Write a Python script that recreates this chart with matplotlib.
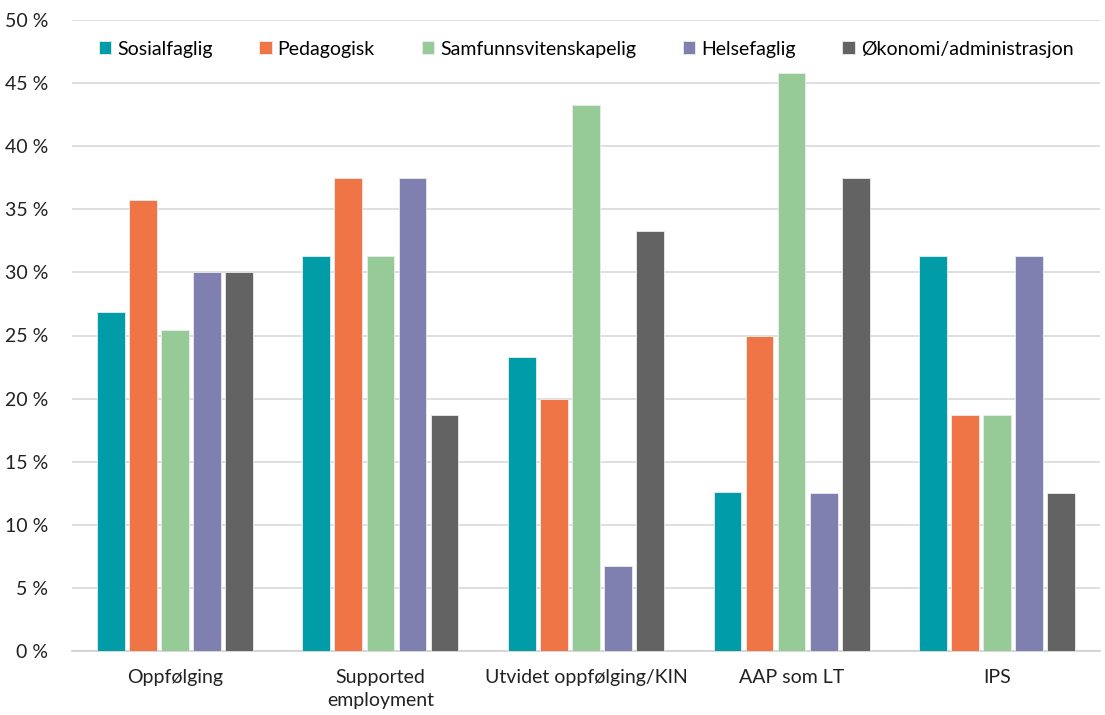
import numpy as np
import matplotlib.pyplot as plt
import matplotlib
from matplotlib.ticker import FuncFormatter

matplotlib.rc('font', family=['Lato', 'DejaVu Sans'], size=14)

categories = ['Oppfølging', 'Supported\nemployment', 'Utvidet oppfølging/KIN', 'AAP som LT', 'IPS']
series = ['Sosialfaglig', 'Pedagogisk', 'Samfunnsvitenskapelig', 'Helsefaglig', 'Økonomi/administrasjon']
sosialfaglig = [26.9, 31.3, 23.3, 12.6, 31.3]
pedagogisk = [35.7, 37.5, 20.0, 25.0, 18.7]
samfunnsvitenskapelig = [25.4, 31.3, 43.3, 45.8, 18.7]
helsefaglig = [30.0, 37.5, 6.7, 12.5, 31.3]
okonomi = [30.0, 18.7, 33.3, 37.5, 12.5]
colors = ['#009CA8', '#F07546', '#96CA96', '#8080B0', '#636363']

values = [sosialfaglig, pedagogisk, samfunnsvitenskapelig, helsefaglig, okonomi]

fig = plt.figure(figsize=(11.05, 7.15), dpi=100)
ax = fig.add_axes([72/1105, 64/715, 1028/1105, 631/715])

x = np.arange(len(categories))
step = 0.156
width = 0.135
for i, (name, vals) in enumerate(zip(series, values)):
    ax.bar(x + (i - 2) * step, vals, width, color=colors[i], label=name,
           edgecolor='#ececec', linewidth=0.6, zorder=3)

ax.set_ylim(0, 50)
ax.set_xlim(-0.5, len(categories) - 0.5)
ax.set_yticks(np.arange(0, 51, 5))
ax.yaxis.set_major_formatter(FuncFormatter(lambda v, p: '%d %%' % v))
ax.set_xticks(x)
ax.set_xticklabels(categories, color='#222222', linespacing=1.45)
ax.tick_params(axis='y', length=0, pad=17, labelcolor='#222222')
ax.tick_params(axis='x', length=0, pad=13)
ax.grid(axis='y', color='#d9d9d9', linewidth=1.2, zorder=0)
for s in ['top', 'right', 'left']:
    ax.spines[s].set_visible(False)
ax.spines['bottom'].set_color('#d0d0d0')
ax.spines['bottom'].set_linewidth(1.2)

ax.legend(loc='upper center', bbox_to_anchor=(0.5, 0.995), ncol=5, frameon=False,
          handlelength=0.65, handleheight=0.65, handletextpad=0.3, columnspacing=2.4)

plt.savefig('out.png', dpi=100)
